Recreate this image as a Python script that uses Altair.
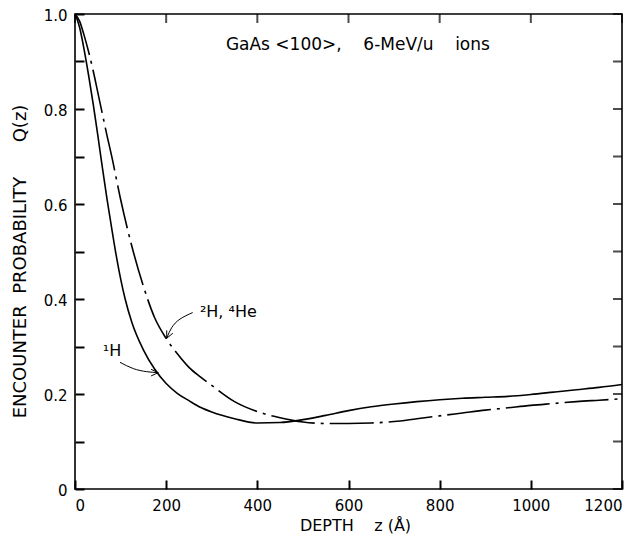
import altair as alt
import pandas as pd

# ---- data ----
z_h1 = [0, 5, 10, 15, 20, 25, 30, 40, 50, 60, 70, 80, 90, 100, 110, 125, 150, 175, 200,
        225, 250, 275, 300, 350, 400, 450, 500, 550, 600, 650, 700, 750, 800, 850, 900,
        950, 1000, 1050, 1100, 1150, 1200]
q_h1 = [1.0, 0.988, 0.972, 0.95, 0.925, 0.898, 0.87, 0.81, 0.745, 0.677, 0.612, 0.552,
        0.494, 0.443, 0.400, 0.350, 0.293, 0.252, 0.222, 0.201, 0.186, 0.172, 0.162,
        0.148, 0.139, 0.140, 0.146, 0.155, 0.165, 0.173, 0.179, 0.184, 0.188, 0.191,
        0.193, 0.195, 0.199, 0.204, 0.209, 0.214, 0.220]

z_h2 = [0, 10, 20, 30, 40, 50, 60, 70, 80, 100, 125, 150, 175, 200, 225, 250, 275, 300,
        350, 400, 450, 475, 500, 550, 600, 650, 700, 750, 800, 850, 900, 950, 1000, 1050,
        1100, 1150, 1200]
q_h2 = [1.0, 0.985, 0.955, 0.92, 0.88, 0.835, 0.79, 0.745, 0.703, 0.61, 0.51, 0.427,
        0.36, 0.317, 0.284, 0.256, 0.236, 0.218, 0.184, 0.163, 0.150, 0.145, 0.141,
        0.138, 0.138, 0.139, 0.142, 0.148, 0.154, 0.160, 0.166, 0.171, 0.176, 0.180,
        0.184, 0.187, 0.190]

x_ticks = [0, 200, 400, 600, 800, 1000, 1200]
y_ticks = [0.0, 0.1, 0.2, 0.3, 0.4, 0.5, 0.6, 0.7, 0.8, 0.9, 1.0]

NB = "\u00a0"
# annotation texts and arrows (data units)
ann_text = ["GaAs <100>," + NB * 4 + "6-MeV/u" + NB * 4 + "ions", "\u00b2H," + NB + "\u2074He", "\u00b9H"]
ann_z = [331, 274, 61]
ann_q = [0.925, 0.3625, 0.279]
ann_size = [17, 16, 16]

arrow1_z = [258.2, 230.3, 212.1, 201.2]
arrow1_q = [0.3715, 0.3577, 0.3396, 0.3173]
head1_z = [214.6, 201.2, 201.2]
head1_q = [0.328, 0.3173, 0.334]
arrow2_z = [98.7, 127.9, 157.3, 182.7]
arrow2_q = [0.2667, 0.2535, 0.2470, 0.2450]
head2_z = [166.9, 182.7, 166.9]
head2_q = [0.2520, 0.2450, 0.2380]

W, H = 547, 475
FONT = "DejaVu Sans"
TICK = 9

x_scale = alt.Scale(domain=[0, 1200], nice=False, zero=False)
y_scale = alt.Scale(domain=[0, 1], nice=False)

# bottom / left axes with inward ticks (axis shifted inside by the tick length)
x_axis = alt.Axis(orient="bottom", values=x_ticks, format="d", offset=-TICK, ticks=True,
                  tickSize=TICK, tickColor="black", tickWidth=2, labelPadding=9,
                  title="DEPTH" + NB * 4 + "z" + NB + "(\u00c5)", titleX=280, titlePadding=4,
                  titleFontSize=16)
y_axis = alt.Axis(orient="left", values=y_ticks, offset=-TICK, ticks=True, tickSize=TICK,
                  tickColor="black", tickWidth=2, labelPadding=8, labelOffset=1,
                  labelExpr="datum.value == 0 ? '0' : (round(datum.value * 10) % 2 == 0 ? format(datum.value, '.1f') : '')",
                  title="ENCOUNTER" + NB * 2 + "PROBABILITY" + NB * 6 + "Q(z)",
                  titleFontSize=18, titlePadding=14, titleY=247)

X = lambda: alt.X("z:Q", scale=x_scale, axis=x_axis)
Y = lambda: alt.Y("q:Q", scale=y_scale, axis=y_axis)

df1 = pd.DataFrame({"z": z_h1, "q": q_h1})
df2 = pd.DataFrame({"z": z_h2, "q": q_h2})

solid = alt.Chart(df1).mark_line(color="black", strokeWidth=1.6, interpolate="monotone").encode(
    x=X(), y=Y())
dashdot = alt.Chart(df2).mark_line(color="black", strokeWidth=1.6, interpolate="monotone",
                                   strokeDash=[44, 6, 3, 6]).encode(x=X(), y=Y())

def path(zs, qs, interp):
    d = pd.DataFrame({"z": zs, "q": qs, "o": list(range(len(zs)))})
    return alt.Chart(d).mark_line(color="black", strokeWidth=1.0, interpolate=interp).encode(
        x=X(), y=Y(), order="o:O")

arrows = [path(arrow1_z, arrow1_q, "natural"), path(head1_z, head1_q, "linear"),
          path(arrow2_z, arrow2_q, "natural"), path(head2_z, head2_q, "linear")]

tdf = pd.DataFrame({"z": ann_z, "q": ann_q, "t": ann_text, "s": ann_size})
texts = alt.Chart(tdf).mark_text(align="left", baseline="alphabetic", font=FONT,
                                 color="black").encode(
    x=X(), y=Y(), text="t:N", size=alt.Size("s:Q", scale=None, legend=None))

# mirrored inward ticks on the top and right frame edges
xt = pd.DataFrame({"z": x_ticks})
yt = pd.DataFrame({"q": y_ticks})
tick_t = alt.Chart(xt).mark_tick(color="black", thickness=2, size=TICK).encode(
    x=X(), y=alt.value(TICK / 2))
tick_r = alt.Chart(yt).mark_tick(color="black", thickness=2, size=TICK).encode(
    y=Y(), x=alt.value(W - TICK / 2))

chart = alt.layer(solid, dashdot, *arrows, texts, tick_t, tick_r).properties(
    width=W, height=H,
    autosize=alt.AutoSizeParams(type="none"),
    padding={"left": 67, "top": 6, "right": 10, "bottom": 48},
    background="white",
).configure_view(stroke="black", strokeWidth=1.6).configure_axis(
    domain=False, grid=False,
    labelFont=FONT, labelFontSize=15, labelColor="black",
    titleFont=FONT, titleColor="black", titleFontWeight="normal",
)

chart.save("out.html", embed_options={"renderer": "svg", "actions": False})
